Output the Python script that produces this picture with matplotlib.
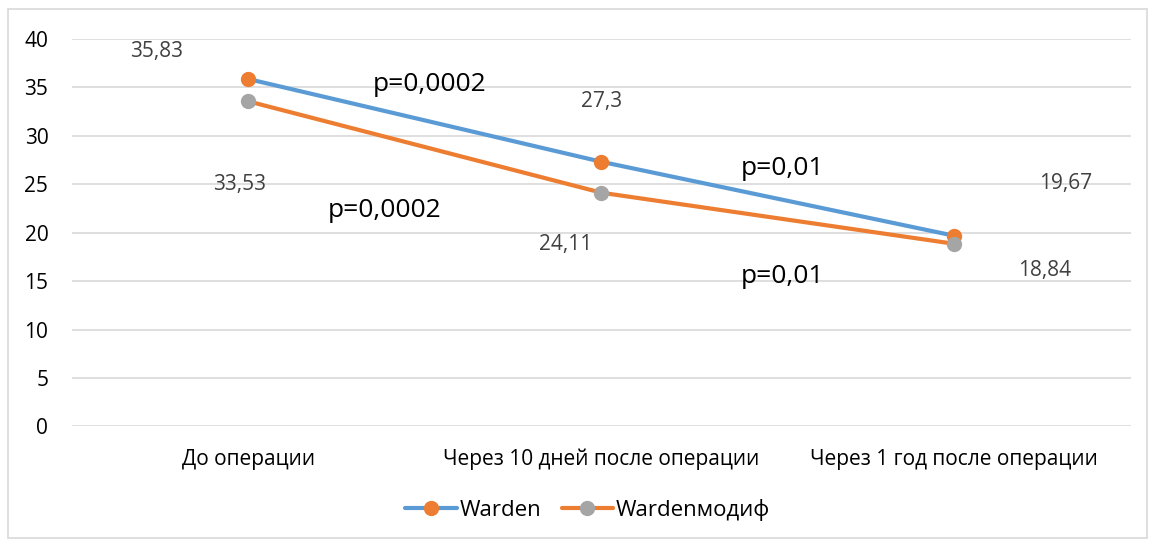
import matplotlib
matplotlib.use("Agg")
import matplotlib.pyplot as plt
from matplotlib.lines import Line2D
from matplotlib.patches import Rectangle

plt.rcParams['font.family'] = ['Open Sans', 'DejaVu Sans']

categories = ["До операции", "Через 10 дней после операции", "Через 1 год после операции"]
warden = [35.83, 27.3, 19.67]
warden_mod = [33.53, 24.11, 18.84]
series_names = ["Warden", "Wardenмодиф"]
p_labels = ["p=0,0002", "p=0,0002", "p=0,01", "p=0,01"]
y_ticks = [0, 5, 10, 15, 20, 25, 30, 35, 40]

BLUE = "#5B9BD5"
ORANGE = "#ED7D31"
GRAY = "#A5A5A5"
GRID = "#D9D9D9"

fig = plt.figure(figsize=(11.55, 5.44), dpi=100)
ax = fig.add_axes([0.0623, 0.216, 0.9167, 0.713])

# outer chart frame
fig.patches.append(Rectangle((8 / 1155, 6 / 544), 1139 / 1155, 529 / 544,
                             transform=fig.transFigure, fill=False,
                             edgecolor=GRID, linewidth=1.2))

x = list(range(len(categories)))
ax.plot(x, warden, color=BLUE, lw=3, marker='o', ms=10,
        mfc=ORANGE, mec=ORANGE, solid_capstyle='round', zorder=3)
ax.plot(x, warden_mod, color=ORANGE, lw=3, marker='o', ms=10,
        mfc=GRAY, mec=GRAY, solid_capstyle='round', zorder=3)

ax.set_xlim(-0.5, 2.5)
ax.set_ylim(0, 40)
ax.set_yticks(y_ticks)
ax.set_xticks(x)
ax.set_xticklabels(categories, fontsize=15, color="#000000")
ax.tick_params(axis='y', labelsize=15, length=0, pad=17, labelcolor="#000000")
ax.tick_params(axis='x', length=0, pad=16)
ax.yaxis.grid(True, color=GRID, lw=1.2)
ax.set_axisbelow(True)
for s in ax.spines.values():
    s.set_visible(False)


def fmt(v):
    return f"{v:g}".replace('.', ',')


# data labels
value_offsets = [(-0.26, 38.7), (1.0, 33.56), (2.316, 25.1)]
mod_offsets = [(-0.024, 25.0), (0.9, 18.8), (2.256, 16.1)]
for v, (tx, ty) in zip(warden, value_offsets):
    ax.text(tx, ty, fmt(v), ha='center', va='center', fontsize=15, color="#404040")
for v, (tx, ty) in zip(warden_mod, mod_offsets):
    ax.text(tx, ty, fmt(v), ha='center', va='center', fontsize=15, color="#404040")

# significance annotations
p_pos = [(0.514, 35.3), (0.387, 22.3), (1.514, 26.65), (1.514, 15.5)]
for txt, (tx, ty) in zip(p_labels, p_pos):
    ax.text(tx, ty, txt, ha='center', va='center', fontsize=19, color="#000000")

handles = [
    Line2D([0], [0], color=BLUE, lw=3, marker='o', ms=10, mfc=ORANGE, mec=ORANGE,
           solid_capstyle='round'),
    Line2D([0], [0], color=ORANGE, lw=3, marker='o', ms=10, mfc=GRAY, mec=GRAY,
           solid_capstyle='round'),
]
fig.legend(handles, series_names, loc='center', bbox_to_anchor=(0.509, 0.062),
           ncol=2, frameon=False, fontsize=16, handlelength=2.3,
           handletextpad=0.15, columnspacing=0.9)

fig.savefig("out.png", dpi=100, facecolor='white')
